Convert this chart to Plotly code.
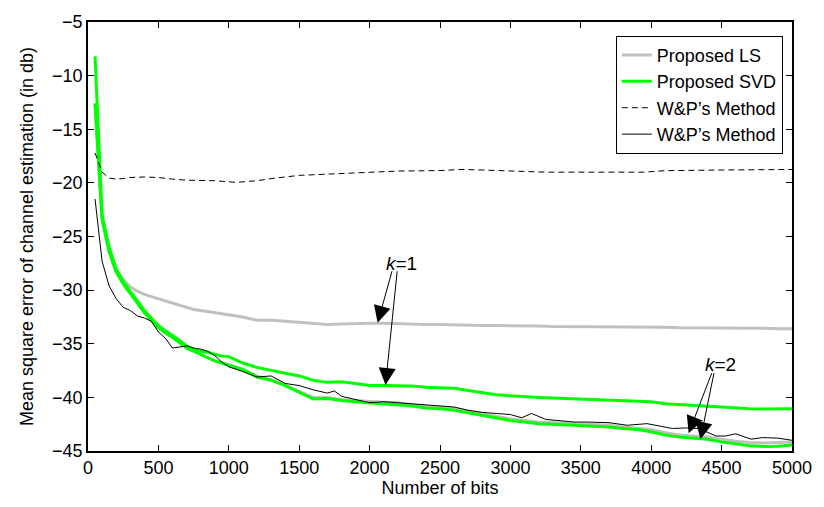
import plotly.graph_objects as go

# shared x grid (bits)
x_grid = [50, 100, 150, 200, 250, 300, 350, 400, 450, 500, 550, 600, 650, 700, 750,
          800, 850, 900, 950, 1000] + list(range(1100, 5001, 100))

ls_k1 = [-12.6, -23.2, -26.3, -28.2, -29.0, -29.7, -30.1, -30.4, -30.6, -30.8,
         -31.0, -31.2, -31.4, -31.6, -31.8, -31.9, -32.0, -32.1, -32.2, -32.3,
         -32.5, -32.8, -32.8, -32.9, -33.0, -33.1, -33.2, -33.15, -33.1, -33.1,
         -33.1, -33.15, -33.2, -33.2, -33.2, -33.25, -33.3, -33.3, -33.3, -33.3,
         -33.35, -33.35, -33.4, -33.4, -33.4, -33.4, -33.4, -33.45, -33.45, -33.45,
         -33.45, -33.5, -33.5, -33.5, -33.5, -33.55, -33.55, -33.55, -33.6, -33.6]

ls_k2 = [-12.6, -23.4, -26.4, -28.3, -29.4, -30.3, -31.2, -32.1, -32.8, -33.5,
         -34.0, -34.4, -34.9, -35.4, -35.7, -36.0, -36.3, -36.6, -36.8, -37.0,
         -37.4, -38.0, -38.35, -38.85, -39.4, -40.0, -40.0, -40.2, -40.3, -40.4,
         -40.45, -40.5, -40.65, -40.85, -40.9, -41.05, -41.3, -41.55, -41.8, -42.0,
         -42.15, -42.3, -42.35, -42.4, -42.45, -42.55, -42.6, -42.75, -42.85, -43.0,
         -43.3, -43.5, -43.6, -43.7, -43.9, -44.1, -44.2, -44.25, -44.2, -44.15]

svd_k1 = [-8.2, -23.0, -26.0, -28.0, -29.2, -30.1, -31.0, -31.9, -32.6, -33.3,
          -33.8, -34.2, -34.7, -35.2, -35.5, -35.7, -35.8, -36.0, -36.15, -36.2,
          -36.8, -37.2, -37.5, -37.75, -38.0, -38.4, -38.6, -38.55, -38.7, -38.9,
          -38.9, -38.9, -38.95, -39.05, -39.1, -39.15, -39.35, -39.55, -39.75, -39.85,
          -39.95, -40.0, -40.05, -40.1, -40.1, -40.15, -40.2, -40.3, -40.37, -40.4,
          -40.6, -40.7, -40.78, -40.83, -40.9, -40.99, -41.05, -41.08, -41.07, -41.07]

svd_k2 = [-12.6, -23.4, -26.4, -28.3, -29.4, -30.3, -31.2, -32.1, -32.8, -33.5,
          -34.0, -34.4, -34.9, -35.4, -35.7, -36.0, -36.3, -36.6, -36.8, -37.0,
          -37.4, -38.1, -38.4, -38.9, -39.5, -40.15, -40.1, -40.3, -40.4, -40.5,
          -40.6, -40.65, -40.8, -41.0, -41.05, -41.2, -41.45, -41.7, -41.95, -42.15,
          -42.3, -42.45, -42.5, -42.55, -42.6, -42.7, -42.76, -42.9, -43.0, -43.2,
          -43.5, -43.7, -43.8, -43.9, -44.15, -44.35, -44.5, -44.57, -44.55, -44.45]

# W&P's method (dashed)
x_wp_dash = [50, 100, 150, 200, 250, 300, 400, 500, 600, 700, 900, 1050, 1200, 1300,
             1500, 1650, 1800, 2000, 2200, 2500, 2650, 2800, 3000, 3250, 3950, 4100,
             4500, 5000]
wp_dash = [-17.2, -19.0, -19.55, -19.65, -19.6, -19.5, -19.45, -19.5, -19.65, -19.75,
           -19.8, -19.95, -19.8, -19.6, -19.3, -19.2, -19.15, -19.0, -18.9, -18.85,
           -18.75, -18.8, -18.9, -19.0, -19.0, -18.86, -18.8, -18.75]

# W&P's method (solid)
x_wp_solid = [50, 100, 150, 200, 250, 300, 350, 400, 450, 500, 550, 600, 650, 700, 750,
              800, 850, 900, 950, 1000, 1100, 1200, 1300, 1400, 1500, 1600, 1700, 1750,
              1800, 1900, 2000, 2100, 2200, 2300, 2400, 2500, 2600, 2700, 2800, 2900,
              3000, 3080, 3150, 3250, 3350, 3450, 3550, 3700, 3830, 3970, 4060, 4150,
              4250, 4340, 4460, 4530, 4600, 4710, 4790, 4900, 5000]
wp_solid = [-21.5, -27.3, -29.6, -30.8, -31.6, -31.9, -32.4, -32.6, -32.9, -33.9,
            -34.5, -35.4, -35.3, -35.2, -35.4, -35.5, -35.7, -36.1, -36.7, -37.15,
            -37.6, -38.1, -38.0, -38.7, -38.9, -39.3, -39.6, -39.4,
            -39.9, -40.2, -40.5, -40.4, -40.5, -40.6, -40.7, -40.8, -40.9, -41.2, -41.4, -41.5,
            -41.6, -41.9, -41.5, -42.05, -42.2, -42.3, -42.3, -42.36, -42.6, -42.45, -42.67, -42.9,
            -42.85, -42.9, -43.6, -43.6, -43.4, -43.9, -43.75, -43.8, -44.0]

x_ticks = list(range(0, 5001, 500))
y_ticks = list(range(-45, -4, 5))

GRAY = "#c0c0c0"
GREEN = "#00ff00"
FONT = "Liberation Sans, Arial, Helvetica, sans-serif"

fig = go.Figure()
fig.add_trace(go.Scatter(x=x_grid, y=ls_k1, mode="lines", name="Proposed LS",
                         line=dict(color=GRAY, width=3)))
fig.add_trace(go.Scatter(x=x_grid, y=ls_k2, mode="lines", name="Proposed LS",
                         line=dict(color=GRAY, width=3), showlegend=False))
fig.add_trace(go.Scatter(x=x_grid, y=svd_k1, mode="lines", name="Proposed SVD",
                         line=dict(color=GREEN, width=3)))
fig.add_trace(go.Scatter(x=x_grid, y=svd_k2, mode="lines", name="Proposed SVD",
                         line=dict(color=GREEN, width=3), showlegend=False))
fig.add_trace(go.Scatter(x=x_wp_dash, y=wp_dash, mode="lines", name="W&P’s Method",
                         line=dict(color="black", width=1, dash="6px,4px")))
fig.add_trace(go.Scatter(x=x_wp_solid, y=wp_solid, mode="lines", name="W&P’s Method",
                         line=dict(color="black", width=1)))

# k labels and arrows (head at x,y; tail at ax,ay)
labels = [("<i>k</i>=1", 2225, -27.5), ("<i>k</i>=2", 4490, -36.9)]
arrows = [(2057, -33.05, 2162, -28.1), (2113, -38.84, 2197, -28.1),
          (4266, -43.34, 4434, -37.6), (4350, -43.9, 4448, -37.6)]
for txt, lx, ly in labels:
    fig.add_annotation(x=lx, y=ly, text=txt, showarrow=False,
                       font=dict(family=FONT, size=19, color="black"))
for hx, hy, tx, ty in arrows:
    fig.add_annotation(x=hx, y=hy, ax=tx, ay=ty, xref="x", yref="y", axref="x", ayref="y",
                       text="", showarrow=True, arrowhead=2, arrowsize=3.4, arrowwidth=1,
                       arrowcolor="black")

axis_common = dict(showline=True, linecolor="black", linewidth=1.5, mirror="ticks",
                   ticks="inside", ticklen=6, tickcolor="black", tickwidth=1,
                   showgrid=False, zeroline=False,
                   tickfont=dict(family=FONT, size=18, color="black"))

fig.update_xaxes(range=[0, 5000], tickvals=x_ticks,
                 title=dict(text="Number of bits", font=dict(family=FONT, size=18, color="black"),
                            standoff=4),
                 **axis_common)
fig.update_yaxes(range=[-45, -5], tickvals=y_ticks,
                 title=dict(text="Mean square error of channel estimation (in db)",
                            font=dict(family=FONT, size=18, color="black"), standoff=14),
                 **axis_common)

fig.update_layout(
    width=824, height=507,
    margin=dict(l=88, r=23, t=17, b=55),
    paper_bgcolor="white", plot_bgcolor="white",
    font=dict(family=FONT, color="black"),
    legend=dict(x=0.987, y=0.968, xanchor="right", yanchor="top",
                bgcolor="white", bordercolor="black", borderwidth=1,
                font=dict(family=FONT, size=18, color="black"),
                tracegroupgap=0, itemwidth=30),
)

fig.write_html("out.html")
